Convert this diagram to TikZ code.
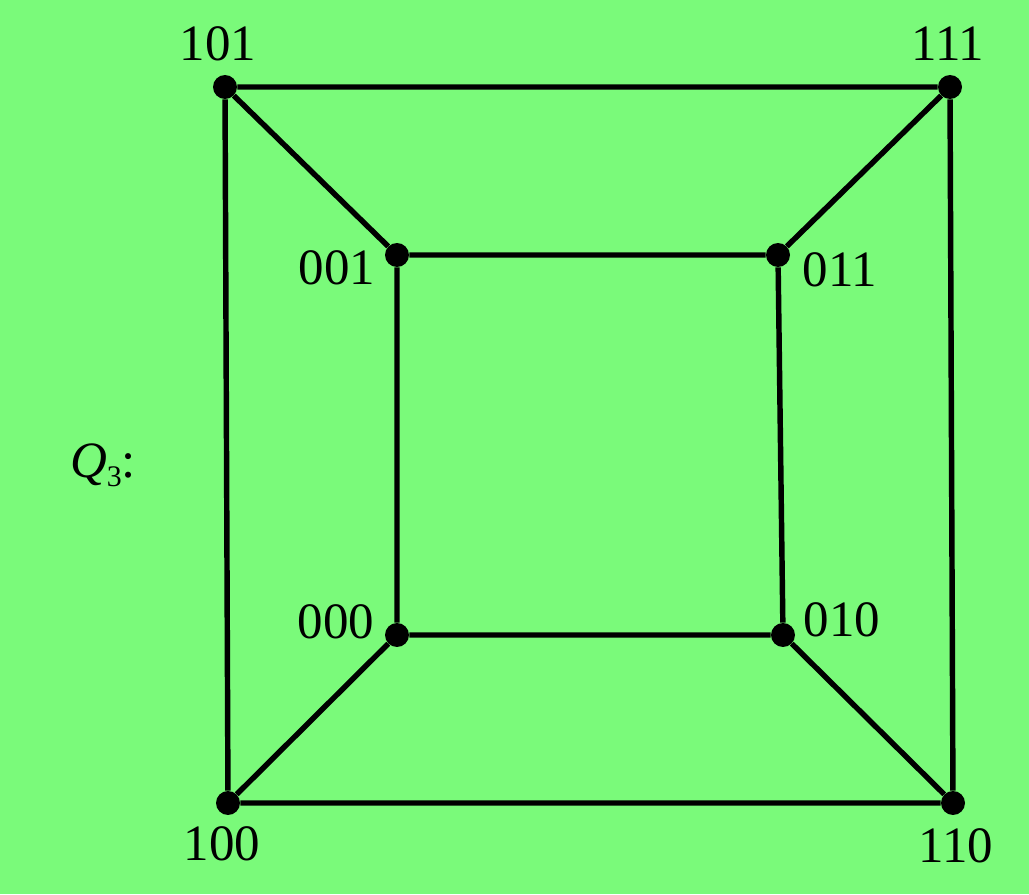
\documentclass[tikz,border=0pt]{standalone}
\usepackage{fontspec}
\setmainfont{Liberation Serif}
\usetikzlibrary{calc}
\definecolor{bggreen}{RGB}{122,250,122}

\begin{document}
\begin{tikzpicture}[x=0.02cm,y=0.02cm,
  vtx/.style={circle,fill=black,inner sep=0pt,minimum size=0.48cm},
  lbl/.style={font=\fontsize{29}{34}\selectfont,inner sep=0pt},
  edge/.style={line width=3.1pt}]
 % ---- background
 \fill[bggreen] (0,0) rectangle (1029,894);
 \useasboundingbox (0,0) rectangle (1029,894);
 % ---- vertices
 \node[vtx] (v101) at (225,807) {};
 \node[vtx] (v111) at (950,807) {};
 \node[vtx] (v001) at (397,639) {};
 \node[vtx] (v011) at (778,639) {};
 \node[vtx] (v000) at (397,259) {};
 \node[vtx] (v010) at (783,259) {};
 \node[vtx] (v100) at (228,91) {};
 \node[vtx] (v110) at (953,91) {};
 % ---- edges
 \draw[edge] (v101) -- (v111) -- (v110) -- (v100) -- (v101);
 \draw[edge] (v001) -- (v011) -- (v010) -- (v000) -- (v001);
 \draw[edge] (v101) -- (v001) (v111) -- (v011) (v100) -- (v000) (v110) -- (v010);
 % ---- labels
 \node[lbl] (l101) at (218,850) {101};
 \node[lbl] (l111) at (948,850) {111};
 \node[lbl] (l001) at (337,626) {001};
 \node[lbl] (l011) at (840,624) {011};
 \node[lbl] (l000) at (336,272) {000};
 \node[lbl] (l010) at (842,274) {010};
 \node[lbl] (l100) at (222,50) {100};
 \node[lbl] (l110) at (956,48) {110};
 \node[lbl] (q3) at (103,429) {\textit{Q}\raisebox{-0.18em}{\fontsize{17}{20}\selectfont 3}:};
\end{tikzpicture}
\end{document}
